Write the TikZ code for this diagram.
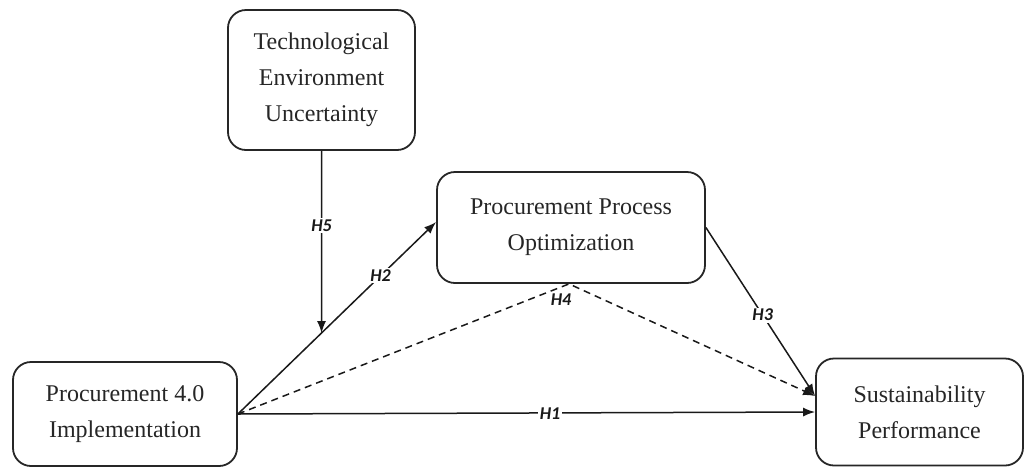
\documentclass[tikz,border=0pt]{standalone}
\usepackage{fontspec}
\setmainfont{Liberation Serif}
\newfontfamily\labfont{Carlito}
\usetikzlibrary{arrows.meta}
\begin{document}
\begin{tikzpicture}[x=1pt,y=-1pt,
  box/.style={draw=black!85, line width=1.8pt, rounded corners=18pt, align=center,
    inner sep=0pt, text=black!85, font=\fontsize{24}{36}\selectfont},
  conn/.style={draw=black!90, line width=1.5pt},
  arr/.style={conn, -{Latex[length=12pt,width=9pt]}},
  dsh/.style={arr, dash pattern=on 7pt off 5pt},
  hlab/.style={fill=white, inner sep=1.5pt, text=black!90,
    font=\labfont\bfseries\itshape\fontsize{18}{18}\selectfont}]
\useasboundingbox (0,0) rectangle (1026,467);

\node[box, minimum width=187pt, minimum height=140pt] (Tech) at (321.5,80)
  {Technological\\Environment\\Uncertainty};
\node[box, minimum width=268pt, minimum height=111pt] (PPO) at (571,227.5)
  {Procurement Process\\Optimization};
\node[box, minimum width=224pt, minimum height=104pt] (P40) at (125,414)
  {Procurement 4.0\\Implementation};
\node[box, minimum width=207pt, minimum height=107pt] (Sust) at (919.5,412)
  {Sustainability\\Performance};

\coordinate (h2s) at (P40.east);
\coordinate (h2e) at ([yshift=5.5pt]PPO.west);
\coordinate (h5a) at (Tech.south);
\coordinate (h5b) at ([yshift=-300pt]Tech.south);
\coordinate (h5e) at (intersection of h2s--h2e and h5a--h5b);
\coordinate (apex) at ([xshift=-2pt]PPO.south);
\coordinate (sin) at ([yshift=16pt]Sust.west);

% H1
\draw[arr] (P40.east) -- (Sust.west);
\node[hlab] (l1) at (550,414) {H1};
% H2
\draw[arr] (h2s) -- (h2e) node[hlab, pos=0.72] (l2) {H2};
% H5
\draw[arr] (h5a) -- (h5e) node[hlab, pos=0.41] (l5) {H5};
% H3
\draw[arr] (PPO.east) -- (sin) node[hlab, pos=0.52] (l3) {H3};
% H4
\draw[dsh] (P40.east) -- (apex) -- (sin);
\node[hlab, fill=none] (l4) at (561,300) {H4};
\end{tikzpicture}
\end{document}
